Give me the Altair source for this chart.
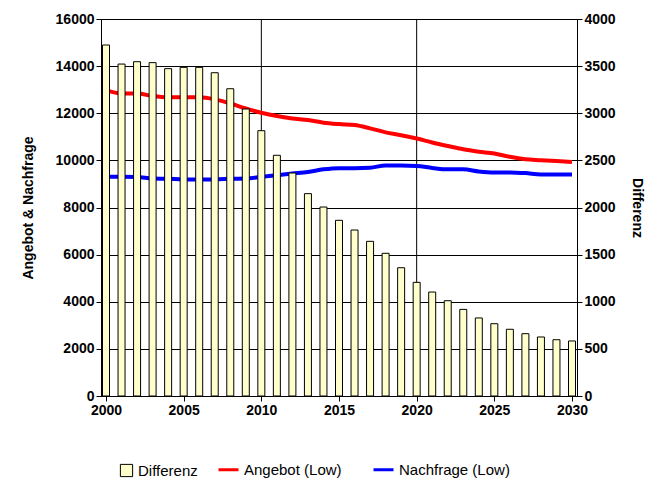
import altair as alt
import pandas as pd

years = list(range(2000, 2031))
differenz = [3724, 3522, 3547, 3537, 3473, 3487, 3487, 3430, 3260, 3045,
             2815, 2554, 2366, 2147, 2005, 1864, 1761, 1641, 1514, 1361,
             1206, 1103, 1011, 919, 828, 767, 708, 661, 626, 597, 584]
angebot = [12980, 12840, 12840, 12730, 12675, 12675, 12675, 12590, 12420, 12200,
           12020, 11880, 11780, 11710, 11600, 11540, 11500, 11360, 11190, 11070,
           10930, 10760, 10610, 10470, 10370, 10290, 10150, 10050, 10010, 9970, 9930]
nachfrage = [9300, 9300, 9290, 9230, 9220, 9190, 9190, 9190, 9220, 9230,
             9300, 9370, 9440, 9510, 9620, 9670, 9670, 9690, 9780, 9780,
             9760, 9680, 9620, 9620, 9530, 9490, 9490, 9460, 9400, 9400, 9400]

bars_df = pd.DataFrame({"Jahr": years, "Wert": differenz, "Serie": "Differenz"})
lines_df = pd.concat([
    pd.DataFrame({"Jahr": years, "Wert": angebot, "Serie": "Angebot (Low)"}),
    pd.DataFrame({"Jahr": years, "Wert": nachfrage, "Serie": "Nachfrage (Low)"}),
])

font = "Liberation Sans"
xscale = alt.Scale(domain=[2000, 2030], nice=False)
xaxis = alt.Axis(values=list(range(2000, 2031, 5)), format="d", title=None,
                 grid=False, labelFontWeight="bold", labelFontSize=14,
                 labelColor="black", domainColor="black", tickColor="black")

vgrid = alt.Chart(pd.DataFrame({"Jahr": [2010, 2020]})).mark_rule(
    color="black", strokeWidth=1).encode(x=alt.X("Jahr:Q", scale=xscale))

bars = alt.Chart(bars_df).mark_bar(
    size=7, fill="#ffffcc", stroke="black", strokeWidth=1).encode(
    x=alt.X("Jahr:Q", scale=xscale, axis=xaxis),
    y=alt.Y("Wert:Q", scale=alt.Scale(domain=[0, 4000]),
            axis=alt.Axis(orient="right", title="Differenz", values=list(range(0, 4001, 500)),
                          format="d", grid=False, labelFontWeight="bold", labelFontSize=14,
                          titleFontSize=14, titlePadding=14, labelColor="black",
                          titleColor="black", domainColor="black", tickColor="black")),
    fill=alt.Fill("Serie:N", scale=alt.Scale(range=["#ffffcc"]),
                  legend=alt.Legend(symbolType="square", symbolStrokeColor="black",
                                    symbolStrokeWidth=1, symbolSize=150, orient="none",
                                    legendX=18, legendY=67 + 377, direction="horizontal",
                                    labelFontSize=15, title=None)),
)

lines = alt.Chart(lines_df).mark_line(strokeWidth=4, interpolate="monotone").encode(
    x=alt.X("Jahr:Q", scale=xscale, axis=xaxis),
    y=alt.Y("Wert:Q", scale=alt.Scale(domain=[0, 16000]),
            axis=alt.Axis(title="Angebot & Nachfrage", values=list(range(0, 16001, 2000)),
                          format="d", gridColor="black", gridOpacity=1, labelFontWeight="bold",
                          labelFontSize=14, titleFontSize=14, titlePadding=20,
                          labelColor="black", titleColor="black", domainColor="black",
                          tickColor="black")),
    stroke=alt.Stroke("Serie:N", scale=alt.Scale(domain=["Angebot (Low)", "Nachfrage (Low)"],
                                                 range=["#ff0000", "#0000ff"]),
                      legend=alt.Legend(symbolType="stroke", symbolStrokeWidth=3,
                                        symbolSize=400, orient="none", legendX=116,
                                        legendY=62 + 377, direction="horizontal",
                                        columnPadding=25, labelFontSize=15, title=None)),
)

chart = alt.layer(vgrid, lines, bars).resolve_scale(
    y="independent", fill="independent", stroke="independent"
).properties(
    width=476, height=377, padding={"left": 13, "top": 4, "right": 2, "bottom": 5}
).configure(font=font).configure_view(stroke="black").configure_axis(
    titleFontWeight="bold", labelFont=font, titleFont=font
).configure_legend(labelFont=font, labelColor="black")

chart.save("out.html", embed_options={"renderer": "svg", "actions": False})
